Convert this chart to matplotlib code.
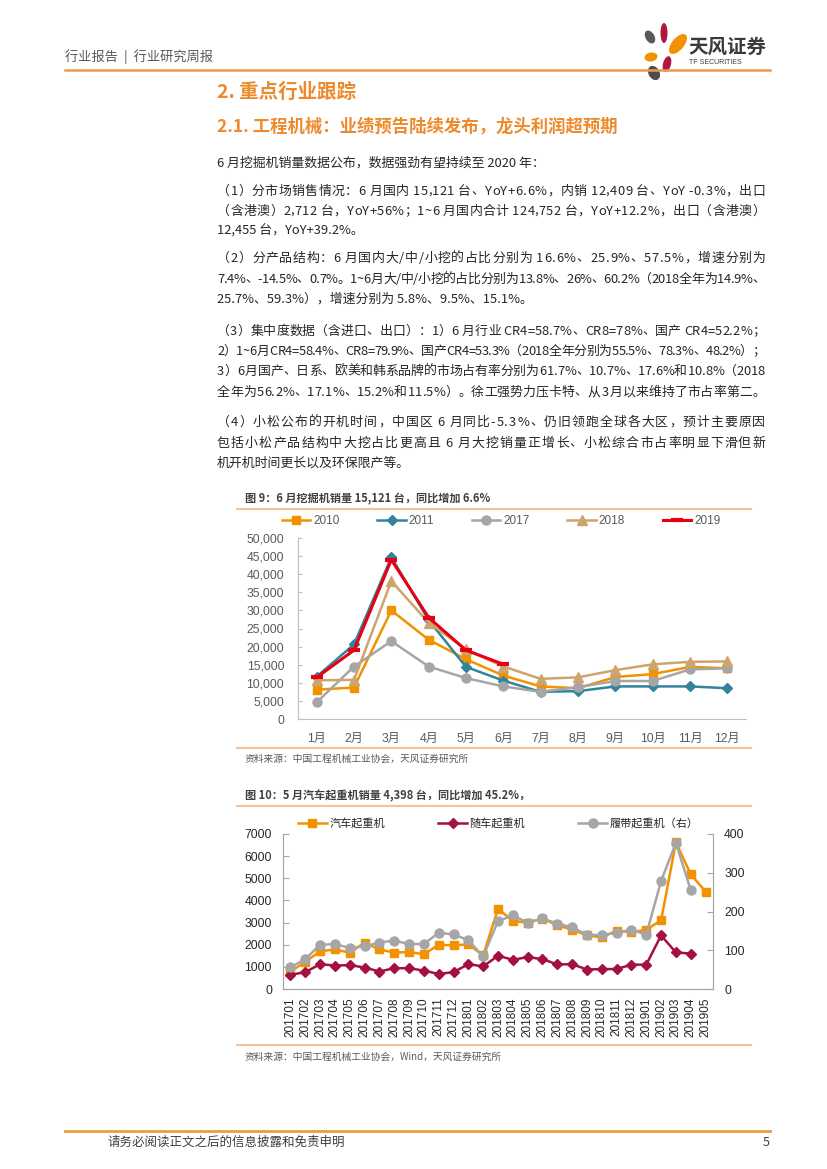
import numpy as np
import matplotlib
matplotlib.use('Agg')
import matplotlib.pyplot as plt
from matplotlib.patches import Ellipse
from matplotlib.ticker import FuncFormatter
from matplotlib.font_manager import FontProperties, findfont, get_font

plt.rcParams['font.family'] = ['Noto Sans CJK SC', 'DejaVu Sans']

W, H = 827, 1169

# ---- chart 1: excavator sales by month ----
months = ['1月', '2月', '3月', '4月', '5月', '6月', '7月', '8月', '9月', '10月', '11月', '12月']
exc_2010 = [8100, 8700, 30000, 21900, 16500, 12000, 9000, 8500, 11600, 12400, 14400, 14000]
exc_2011 = [11700, 20600, 44700, 27300, 14400, 10600, 7500, 7700, 9000, 9000, 9000, 8500]
exc_2017 = [4600, 14500, 21500, 14500, 11300, 9000, 7500, 8800, 10500, 10500, 13700, 14000]
exc_2018 = [10700, 10800, 38100, 26600, 19200, 14500, 11100, 11500, 13500, 15100, 15800, 15900]
exc_2019 = [11500, 19000, 44000, 28000, 19000, 15121]

# ---- chart 2: crane sales ----
periods = ['201701', '201702', '201703', '201704', '201705', '201706', '201707', '201708',
           '201709', '201710', '201711', '201712', '201801', '201802', '201803', '201804',
           '201805', '201806', '201807', '201808', '201809', '201810', '201811', '201812',
           '201901', '201902', '201903', '201904', '201905']
truck_crane = [780, 1230, 1700, 1790, 1640, 2090, 1790, 1640, 1670, 1570, 2000, 1970, 2020, 1520,
               3620, 3080, 2990, 3180, 2880, 2680, 2420, 2330, 2640, 2560, 2680, 3100, 6620, 5180, 4398]
mounted_crane = [640, 760, 1120, 1060, 1080, 970, 790, 940, 940, 830, 680, 760, 1120, 1020,
                 1500, 1320, 1440, 1350, 1110, 1120, 880, 900, 900, 1100, 1100, 2420, 1650, 1600, np.nan]
crawler_crane = [56, 77, 114, 116, 106, 110, 120, 125, 116, 116, 145, 141, 126, 84,
                 175, 190, 171, 182, 169, 159, 140, 139, 145, 153, 140, 279, 377, 255, np.nan]

C_ORANGE = '#F39200'
C_TEAL = '#31849B'
C_GRAY = '#A6A6A6'
C_TAN = '#CDA46C'
C_RED = '#E60012'
C_CRIMSON = '#A3113E'
TXT = '#262626'
HEAD = '#EC8A2C'
SEP = '#F5C495'
NUMFONT = ['Liberation Sans', 'Noto Sans CJK SC']

fig = plt.figure(figsize=(W / 100, H / 100), dpi=100)
bg = fig.add_axes([0, 0, 1, 1], zorder=0)
bg.set_xlim(0, W); bg.set_ylim(H, 0); bg.axis('off')

# header
bg.text(65, 57, '行业报告  |  行业研究周报', fontsize=9.5, color='#595959', va='center')
bg.plot([65, 770], [70, 70], color='#EE9A4C', lw=1.8)
petals = [(650, 37, 9, 14, -30, '#5A5A5A'), (664, 33, 7, 20, 0, '#B0183D'),
          (678, 44, 12, 24, 40, C_ORANGE), (651, 57, 13, 9, -10, C_ORANGE),
          (667, 64, 8, 16, 15, '#B0183D'), (654, 73, 11, 15, -30, '#4D4D4D')]
for px, py, pw, ph, ang, col in petals:
    bg.add_patch(Ellipse((px, py), pw, ph, angle=ang, color=col, lw=0))
bg.text(688, 47, '天风证券', fontsize=14, weight='bold', color='#3A3A3A', va='center')
bg.text(689, 63, 'TF SECURITIES', fontsize=5, color='#3A3A3A', va='center',
        family=['Liberation Sans'])

bg.text(217, 92, '2. 重点行业跟踪', fontsize=14, weight='bold', color=HEAD, va='center')
bg.text(217, 127, '2.1. 工程机械：业绩预告陆续发布，龙头利润超预期', fontsize=12.5,
        weight='bold', color=HEAD, va='center')

body = [
    ("6 月挖掘机销量数据公布，数据强劲有望持续至 2020 年：", 162, False),
    ("（1）分市场销售情况：6 月国内 15,121 台、YoY+6.6%，内销 12,409 台、YoY -0.3%，出口", 190, True),
    ("（含港澳）2,712 台，YoY+56%；1~6 月国内合计 124,752 台，YoY+12.2%，出口（含港澳）", 210, True),
    ("12,455 台，YoY+39.2%。", 229, False),
    ("（2）分产品结构：6 月国内大/中/小挖的占比分别为 16.6%、25.9%、57.5%，增速分别为", 257, True),
    ("7.4%、-14.5%、0.7%。1~6 月大/中/小挖的占比分别为 13.8%、26%、60.2%（2018 全年为 14.9%、", 278, True),
    ("25.7%、59.3%），增速分别为 5.8%、9.5%、15.1%。", 298, False),
    ("（3）集中度数据（含进口、出口）：1）6 月行业 CR4=58.7%、CR8=78%、国产 CR4=52.2%；", 330, True),
    ("2）1~6 月 CR4=58.4%、CR8=79.9%、国产 CR4=53.3%（2018 全年分别为 55.5%、78.3%、48.2%）；", 350, True),
    ("3）6 月国产、日系、欧美和韩系品牌的市场占有率分别为 61.7%、10.7%、17.6%和 10.8%（2018", 370, True),
    ("全年为 56.2%、17.1%、15.2%和 11.5%）。徐工强势力压卡特、从 3 月以来维持了市占率第二。", 391, True),
    ("（4）小松公布的开机时间，中国区 6 月同比-5.3%、仍旧领跑全球各大区，预计主要原因", 421, True),
    ("包括小松产品结构中大挖占比更高且 6 月大挖销量正增长、小松综合市占率明显下滑但新", 442, True),
    ("机开机时间更长以及环保限产等。", 462, False),
]

BODY_SIZE = 9.3
ft = get_font(findfont(FontProperties(family='Noto Sans CJK SC')))
ft.set_size(BODY_SIZE, 100)


def body_line(s, y, justify, x0=217, x1=765):
    base = y + 0.36 * BODY_SIZE * 100 / 72
    if not justify:
        bg.text(x0, base, s, fontsize=BODY_SIZE, color=TXT, va='baseline')
        return
    adv = [ft.load_char(ord(ch)).linearHoriAdvance / 65536 for ch in s]
    over = sum(adv) - (x1 - x0)
    spaces = [i for i, ch in enumerate(s) if ch == ' ']
    if over > 0 and spaces:
        cut = min(over, 0.6 * sum(adv[i] for i in spaces)) / len(spaces)
        for i in spaces:
            adv[i] -= cut
    gap = (x1 - x0 - sum(adv)) / (len(s) - 1)
    x = x0
    for ch, a in zip(s, adv):
        if ch != ' ':
            bg.text(x, base, ch, fontsize=BODY_SIZE, color=TXT, va='baseline')
        x += a + gap


for s, y, j in body:
    body_line(s, y, j)

# ---------------- chart 1 ----------------
bg.text(245, 499, '图 9：6 月挖掘机销量 15,121 台，同比增加 6.6%', fontsize=8,
        weight='bold', color='#404040', va='center')
bg.plot([237, 751], [509, 509], color=SEP, lw=1.5)
bg.plot([237, 751], [748, 748], color=SEP, lw=1.5)
bg.text(245, 759, '资料来源：中国工程机械工业协会，天风证券研究所', fontsize=7,
        color='#595959', va='center')

ax1 = fig.add_axes([298 / W, 1 - 719 / H, 448 / W, 181 / H], zorder=2)
xm = np.arange(len(months))
ax1.plot(xm, exc_2010, color=C_ORANGE, lw=1.8, marker='s', ms=6, label='2010')
ax1.plot(xm, exc_2011, color=C_TEAL, lw=1.8, marker='D', ms=5, label='2011')
ax1.plot(xm, exc_2017, color=C_GRAY, lw=1.8, marker='o', ms=6.5, label='2017')
ax1.plot(xm, exc_2018, color=C_TAN, lw=1.8, marker='^', ms=7, label='2018')
ax1.plot(np.arange(len(exc_2019)), exc_2019, color=C_RED, lw=2.2, marker='_', ms=9,
         mew=3, label='2019')
ax1.set_xlim(-0.5, 11.5)
ax1.set_ylim(0, 50000)
ax1.set_yticks(range(0, 50001, 5000))
ax1.yaxis.set_major_formatter(FuncFormatter(lambda v, p: f'{int(v):,}'))
ax1.set_xticks(xm)
ax1.set_xticklabels(months)
for sp in ('top', 'right'):
    ax1.spines[sp].set_visible(False)
for sp in ('left', 'bottom'):
    ax1.spines[sp].set_color('#BFBFBF')
ax1.tick_params(axis='x', length=0, pad=10, labelsize=8.7, labelcolor='#595959')
ax1.tick_params(axis='y', direction='in', length=3, color='#BFBFBF', pad=10,
                labelsize=8.7, labelcolor='#595959')
for lab in ax1.get_xticklabels() + ax1.get_yticklabels():
    lab.set_family(NUMFONT)
ax1.patch.set_alpha(0)
ax1.legend(loc='center left', bbox_to_anchor=(282 / W, 1 - 521 / H),
           bbox_transform=fig.transFigure, ncol=5, frameon=False,
           prop={'family': NUMFONT, 'size': 8.5}, labelcolor='#595959',
           handlelength=2.4, handletextpad=0.25, columnspacing=3.2,
           borderpad=0, borderaxespad=0)

# ---------------- chart 2 ----------------
bg.text(245, 796, '图 10：5 月汽车起重机销量 4,398 台，同比增加 45.2%，', fontsize=8,
        weight='bold', color='#404040', va='center')
bg.plot([237, 751], [806, 806], color=SEP, lw=1.5)
bg.plot([237, 751], [1045, 1045], color=SEP, lw=1.5)
bg.text(245, 1057, '资料来源：中国工程机械工业协会，Wind，天风证券研究所', fontsize=7,
        color='#595959', va='center')

ax2 = fig.add_axes([283 / W, 1 - 989 / H, 430 / W, 155 / H], zorder=2)
xp = np.arange(len(periods))
h1, = ax2.plot(xp, truck_crane, color=C_ORANGE, lw=1.8, marker='s', ms=6, label='汽车起重机')
h2, = ax2.plot(xp, mounted_crane, color=C_CRIMSON, lw=1.8, marker='D', ms=5, label='随车起重机')
ax3 = ax2.twinx()
h3, = ax3.plot(xp, crawler_crane, color=C_GRAY, lw=1.8, marker='o', ms=6.5, label='履带起重机（右）')
ax2.set_xlim(-0.5, len(periods) - 0.5)
ax2.set_ylim(0, 7000)
ax3.set_ylim(0, 400)
ax2.set_yticks(range(0, 7001, 1000))
ax3.set_yticks(range(0, 401, 100))
ax2.set_xticks(xp)
ax2.set_xticklabels(periods, rotation=90)
for a in (ax2, ax3):
    a.spines['top'].set_visible(False)
    for sp in ('left', 'right', 'bottom'):
        a.spines[sp].set_color('#A6A6A6')
ax2.tick_params(axis='x', length=0, pad=6, labelsize=8.5, labelcolor=TXT)
ax2.tick_params(axis='y', direction='in', length=4, color='#A6A6A6', pad=8,
                labelsize=8.7, labelcolor=TXT)
ax3.tick_params(axis='y', direction='in', length=4, color='#A6A6A6', pad=8,
                labelsize=8.7, labelcolor=TXT)
for lab in ax2.get_xticklabels() + ax2.get_yticklabels() + ax3.get_yticklabels():
    lab.set_family(NUMFONT)
ax2.patch.set_alpha(0)
ax3.legend(handles=[h1, h2, h3], loc='center left', bbox_to_anchor=(298 / W, 1 - 823 / H),
           bbox_transform=fig.transFigure, ncol=3, frameon=False,
           prop={'size': 8}, labelcolor=TXT, handlelength=2.6, handletextpad=0.2,
           columnspacing=4.8, borderpad=0, borderaxespad=0)

# footer
bg.plot([65, 770], [1131, 1131], color='#E8A040', lw=2)
bg.text(107, 1142, '请务必阅读正文之后的信息披露和免责申明', fontsize=9, color='#404040', va='center')
bg.text(763, 1142, '5', fontsize=9, color='#404040', va='center')

fig.savefig('out.png', dpi=100)
